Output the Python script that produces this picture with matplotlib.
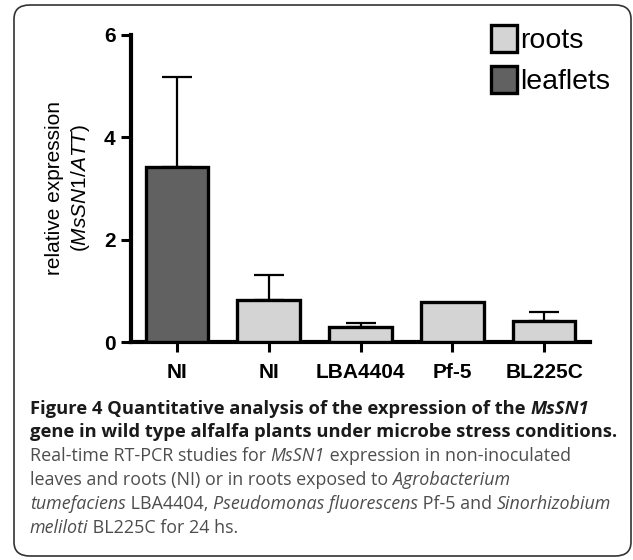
import matplotlib
matplotlib.use("Agg")
import matplotlib.pyplot as plt
from matplotlib.patches import Patch, FancyBboxPatch

# data
groups = ["NI", "NI", "LBA4404", "Pf-5", "BL225C"]
tissue = ["leaflets", "roots", "roots", "roots", "roots"]
values = [3.42, 0.82, 0.30, 0.79, 0.41]
errors = [1.76, 0.49, 0.08, 0.0, 0.17]
yticks = [0, 2, 4, 6]

colors = {"roots": "#d4d4d4", "leaflets": "#616161"}

plt.rcParams["font.family"] = ["Liberation Sans", "DejaVu Sans"]
plt.rcParams["mathtext.fontset"] = "custom"
plt.rcParams["mathtext.it"] = "Liberation Sans:italic"
plt.rcParams["mathtext.rm"] = "Liberation Sans"

W, H = 633, 560
fig = plt.figure(figsize=(W / 100, H / 100), dpi=100)

# rounded frame round the whole figure
frame = FancyBboxPatch((14 / W, 4 / H), 617 / W, 551 / H,
                       boxstyle="round,pad=0,rounding_size=0.025",
                       transform=fig.transFigure, fill=False,
                       edgecolor="#333333", linewidth=1.2)
fig.patches.append(frame)

ax = fig.add_axes([131 / W, 1 - 342 / H, 459 / W, 307 / H])
x = list(range(len(groups)))
ax.bar(x, values, width=0.68, color=[colors[t] for t in tissue],
       edgecolor="black", linewidth=2.4, zorder=3)
for xi, v, e in zip(x, values, errors):
    if e > 0:
        ax.errorbar(xi, v, yerr=[[0], [e]], fmt="none", ecolor="black",
                    elinewidth=1.6, capsize=11, capthick=1.6, zorder=2)

ax.set_xlim(-0.5, 4.5)
ax.set_ylim(0, 6)
ax.set_yticks(yticks)
ax.set_xticks(x)
ax.set_xticklabels(groups, fontsize=15, fontweight="bold")
ax.set_yticklabels([str(t) for t in yticks], fontsize=15, fontweight="bold")
for s in ["top", "right"]:
    ax.spines[s].set_visible(False)
for s in ["left", "bottom"]:
    ax.spines[s].set_linewidth(3)
ax.tick_params(axis="both", length=7, width=2.2, pad=4)
ax.tick_params(axis="x", pad=8)

fig.text(55 / W, 1 - 188 / H, "relative expression", rotation=90,
         ha="center", va="center", fontsize=15)
fig.text(81 / W, 1 - 188 / H, r"($\mathit{MsSN1/ATT}$)", rotation=90,
         ha="center", va="center", fontsize=15)

handles = [Patch(facecolor=colors["roots"], edgecolor="black", linewidth=2.4),
           Patch(facecolor=colors["leaflets"], edgecolor="black", linewidth=2.4)]
fig.legend(handles, ["roots", "leaflets"], loc="upper left",
           bbox_to_anchor=(471 / W, 1 - 5 / H), frameon=False,
           prop={"family": ["Liberation Sans"], "size": 20.5},
           handlelength=0.9, handleheight=1.1, handletextpad=0.12,
           labelspacing=0.4, borderpad=0.2)

# caption with mixed styles
cap_font = ["Open Sans", "DejaVu Sans"]
B = dict(fontweight="bold", style="normal", color="#1a1a1a", fontsize=13.2)
BI = dict(fontweight="bold", style="italic", color="#1a1a1a", fontsize=13.2)
R = dict(style="normal", color="#4d4d4d", fontsize=12.9)
I = dict(style="italic", color="#4d4d4d", fontsize=12.9)
caption = [
    (409, [("Figure 4 Quantitative analysis of the expression of the ", B), ("MsSN1", BI)]),
    (432, [("gene in wild type alfalfa plants under microbe stress conditions.", B)]),
    (456, [("Real-time RT-PCR studies for ", R), ("MsSN1", I),
           (" expression in non-inoculated", R)]),
    (480, [("leaves and roots (NI) or in roots exposed to ", R), ("Agrobacterium", I)]),
    (504, [("tumefaciens", I), (" LBA4404, ", R), ("Pseudomonas fluorescens", I),
           (" Pf-5 and ", R), ("Sinorhizobium", I)]),
    (528, [("meliloti", I), (" BL225C for 24 hs.", R)]),
]
fig.canvas.draw()
renderer = fig.canvas.get_renderer()
for ypix, parts in caption:
    xpix = 30
    for txt, st in parts:
        t = fig.text(xpix / W, 1 - ypix / H, txt, family=cap_font,
                     va="center", ha="left", **st)
        xpix += t.get_window_extent(renderer).width

fig.savefig("out.png", dpi=100)
